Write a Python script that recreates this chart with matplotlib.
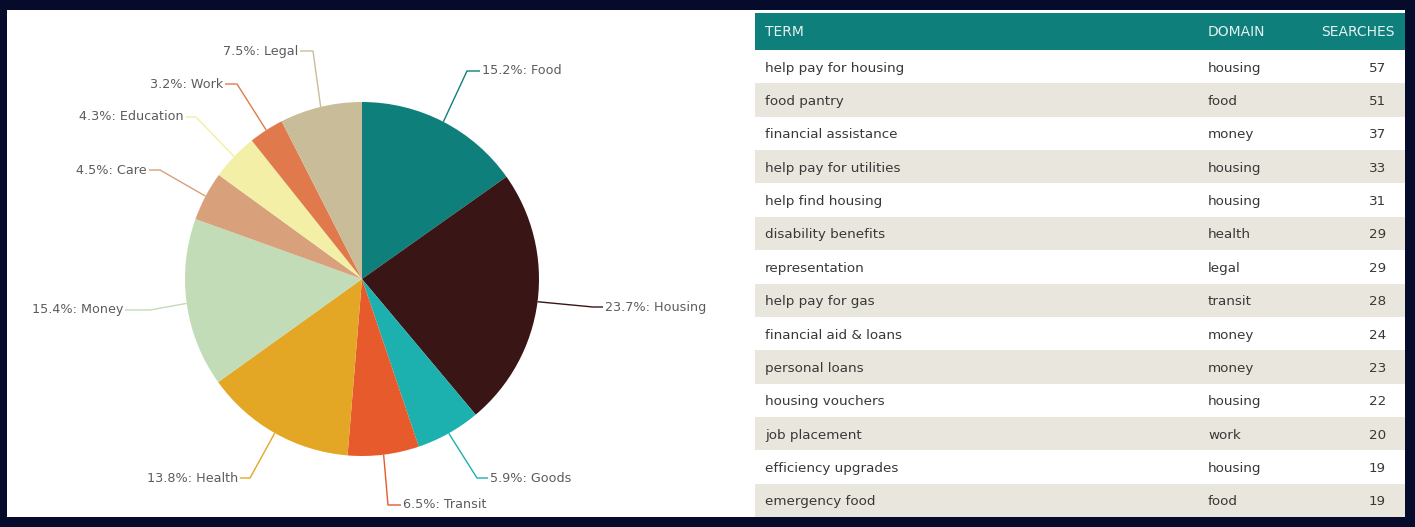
#!/usr/bin/env python3
"""
Search domains pie + top search terms table.
"""
import numpy as np
import matplotlib
matplotlib.use("Agg")
import matplotlib.pyplot as plt
from matplotlib.patches import Rectangle

# ---------- Data ----------
categories = ["Food", "Housing", "Goods", "Transit", "Health",
              "Money", "Care", "Education", "Work", "Legal"]
shares = [15.2, 23.7, 5.9, 6.5, 13.8, 15.4, 4.5, 4.3, 3.2, 7.5]

terms = ["help pay for housing", "food pantry", "financial assistance",
         "help pay for utilities", "help find housing", "disability benefits",
         "representation", "help pay for gas", "financial aid & loans",
         "personal loans", "housing vouchers", "job placement",
         "efficiency upgrades", "emergency food"]
domains = ["housing", "food", "money", "housing", "housing", "health",
           "legal", "transit", "money", "money", "housing", "work",
           "housing", "food"]
searches = [57, 51, 37, 33, 31, 29, 29, 28, 24, 23, 22, 20, 19, 19]

# ---------- Style ----------
W, H = 1415, 527
NAVY = "#060a2b"
TEAL = "#0f7f7b"
STRIPE = "#e9e7dd"
LABEL_GREY = "#5c5c5c"
TABLE_TEXT = "#383838"
slice_colors = ["#0f7f7b", "#3a1516", "#1cb0ae", "#e65a2c", "#e4a625",
                "#c2dcb8", "#d9a07c", "#f3efa6", "#e07a4c", "#c9bc98"]

PIE_CX, PIE_CY, PIE_R = 362, 279, 177
# label layout: text anchor x, y (pixels from top), elbow x, alignment
label_layout = [
    (482, 71, 467, "left"),     # Food
    (605, 307, 593, "left"),    # Housing
    (490, 478, 477, "left"),    # Goods
    (403, 505, 388, "left"),    # Transit
    (238, 478, 250, "right"),   # Health
    (123, 310, 150, "right"),   # Money
    (147, 170, 160, "right"),   # Care
    (184, 117, 196, "right"),   # Education
    (223, 84, 237, "right"),    # Work
    (298, 51, 313, "right"),    # Legal
]


def fy(y):
    """pixel row (from top) -> data y (from bottom)"""
    return H - y


fig = plt.figure(figsize=(W / 100, H / 100), dpi=100)
fig.patch.set_facecolor(NAVY)
ax = fig.add_axes([0, 0, 1, 1])

# white canvas inside the navy frame
ax.add_patch(Rectangle((7, fy(517)), 1398, 507, facecolor="white",
                       edgecolor="none", zorder=0))

# ---------- Pie ----------
wedges, _ = ax.pie(shares, colors=slice_colors, startangle=90,
                   counterclock=False, center=(PIE_CX, fy(PIE_CY)),
                   radius=PIE_R, wedgeprops=dict(linewidth=0))

for w, cat, val, col, (tx, ty, ex, ha) in zip(wedges, categories, shares,
                                             slice_colors, label_layout):
    mid = np.deg2rad((w.theta1 + w.theta2) / 2)
    px = PIE_CX + PIE_R * np.cos(mid)
    py = fy(PIE_CY) + PIE_R * np.sin(mid)
    end_x = tx + (-2 if ha == "left" else 2)
    ax.plot([px, ex, end_x], [py, fy(ty), fy(ty)], color=col, lw=1.0,
            solid_capstyle="butt", zorder=3)
    ax.text(tx, fy(ty), f"{val:.1f}%: {cat}", ha=ha, va="center",
            fontsize=9.2, color=LABEL_GREY, zorder=4)

# ---------- Table ----------
T_LEFT, T_RIGHT = 755, 1405
HEAD_TOP, HEAD_BOT = 13, 50
row_h = (517 - HEAD_BOT) / len(terms)
COL_TERM, COL_DOMAIN, COL_NUM = 765, 1208, 1386

ax.add_patch(Rectangle((T_LEFT, fy(HEAD_BOT)), T_RIGHT - T_LEFT,
                       HEAD_BOT - HEAD_TOP, facecolor=TEAL,
                       edgecolor="none", zorder=1))
head_y = fy((HEAD_TOP + HEAD_BOT) / 2)
for x, name in [(COL_TERM, "TERM"), (COL_DOMAIN, "DOMAIN"), (1321, "SEARCHES")]:
    ax.text(x, head_y, name, ha="left", va="center",
            fontsize=10, color="#e4f2f1", zorder=4)

for i, (term, dom, n) in enumerate(zip(terms, domains, searches)):
    top = HEAD_BOT + i * row_h
    if i % 2 == 1:
        ax.add_patch(Rectangle((T_LEFT, fy(top + row_h)), T_RIGHT - T_LEFT,
                               row_h, facecolor=STRIPE, edgecolor="none",
                               zorder=1))
    yc = fy(top + row_h / 2 + 1.5)
    ax.text(COL_TERM, yc, term, ha="left", va="center", fontsize=9.7,
            color=TABLE_TEXT, zorder=4)
    ax.text(COL_DOMAIN, yc, dom, ha="left", va="center", fontsize=9.7,
            color=TABLE_TEXT, zorder=4)
    ax.text(COL_NUM, yc, str(n), ha="right", va="center", fontsize=9.7,
            color=TABLE_TEXT, zorder=4)

# navy strip on the right edge covers the overflow of the last header
ax.add_patch(Rectangle((1405, 0), 10, H, facecolor=NAVY, edgecolor="none",
                       zorder=5))

ax.set_xlim(0, W)
ax.set_ylim(0, H)
ax.set_aspect("auto")
ax.axis("off")

fig.savefig("out.png", dpi=100, facecolor=NAVY)
plt.close(fig)
